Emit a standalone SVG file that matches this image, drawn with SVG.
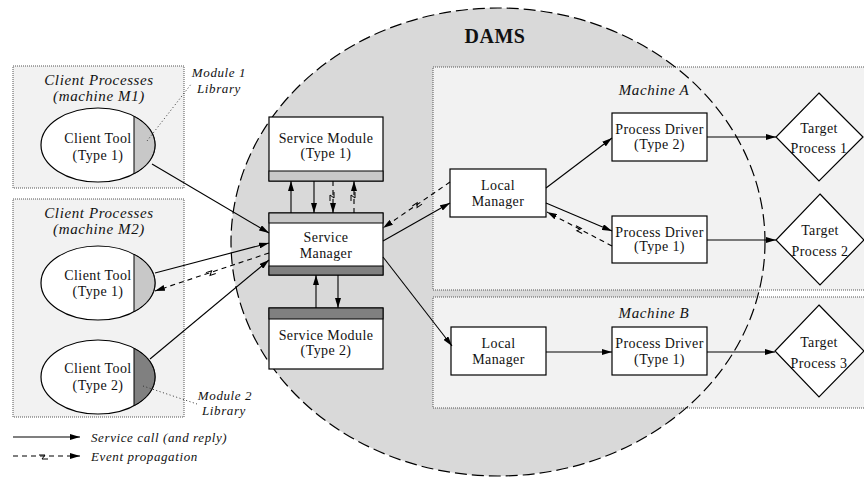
<svg xmlns="http://www.w3.org/2000/svg" width="864" height="477" viewBox="0 0 864 477">
<style>
text{font-family:"Liberation Serif","Times New Roman",serif;font-size:14px;fill:#111;letter-spacing:0.4px}
.it{font-style:italic;font-size:15px;letter-spacing:0.6px}
.mid{text-anchor:middle}
.grp{fill:#f2f2f2;stroke:#555;stroke-width:1;stroke-dasharray:1 1}
.node{fill:#fff;stroke:#000;stroke-width:1.2}
.lt{fill:#c8c8c8;stroke:#000;stroke-width:1}
.dk{fill:#808080;stroke:#000;stroke-width:1}
.call{fill:none;stroke:#000;stroke-width:1.1;marker-end:url(#ah)}
.ev{fill:none;stroke:#000;stroke-width:1.1;stroke-dasharray:5 4;marker-end:url(#ah)}
.zz{fill:none;stroke:#000;stroke-width:1}
.dot{fill:none;stroke:#333;stroke-width:1;stroke-dasharray:1 2.5}
</style>
<defs>
<marker id="ah" viewBox="0 0 10 6" refX="10" refY="3" markerWidth="10" markerHeight="6" markerUnits="userSpaceOnUse" orient="auto"><path d="M0,0 L10,3 L0,6 z" fill="#000"/></marker>
<path id="z" d="M-5,-1 L1,-1 L-2,3 L4,3" fill="none" stroke="#000" stroke-width="1"/>
</defs>
<rect width="864" height="477" fill="#fff"/>

<g id="clients-m1"><rect class="grp" x="13" y="66" width="171" height="122"/>
<text class="it mid" x="99" y="85">Client Processes</text>
<text class="it mid" x="99" y="101">(machine M1)</text></g>
<g id="clients-m2"><rect class="grp" x="13" y="199" width="171" height="218"/>
<text class="it mid" x="99" y="218">Client Processes</text>
<text class="it mid" x="99" y="234">(machine M2)</text></g>

<g id="dams">
<ellipse cx="498" cy="242" rx="267" ry="234" fill="#d9d9d9"/>
</g>
<g id="machine-a"><rect class="grp" x="433" y="67" width="432" height="223"/>
<text class="it mid" x="654" y="95">Machine A</text></g>
<g id="machine-b"><rect class="grp" x="433" y="297" width="432" height="111"/>
<text class="it mid" x="654" y="318">Machine B</text></g>
<ellipse cx="498" cy="242" rx="267" ry="234" fill="none" stroke="#000" stroke-width="1.2" stroke-dasharray="12 5"/>
<text x="495" y="43" class="mid" style="font-weight:bold;font-size:20px;letter-spacing:0.5px">DAMS</text>

<g id="client-tool-m1">
<ellipse class="node" cx="98" cy="145" rx="57" ry="37"/>
<path class="lt" d="M134,116.3 A57,37 0 0 1 134,173.7 Z"/>
<text class="mid" x="98" y="143">Client Tool</text>
<text class="mid" x="98" y="160">(Type 1)</text></g>
<g id="client-tool-m2-t1">
<ellipse class="node" cx="98" cy="283" rx="57" ry="37"/>
<path class="lt" d="M134,254.3 A57,37 0 0 1 134,311.7 Z"/>
<text class="mid" x="98" y="280">Client Tool</text>
<text class="mid" x="98" y="296">(Type 1)</text></g>
<g id="client-tool-m2-t2">
<ellipse class="node" cx="98" cy="377" rx="57" ry="37"/>
<path class="dk" d="M134,348.3 A57,37 0 0 1 134,405.7 Z"/>
<text class="mid" x="98" y="373">Client Tool</text>
<text class="mid" x="98" y="390">(Type 2)</text></g>

<g id="module1-library"><path class="dot" d="M147,141 L192,83"/>
<text class="it mid" x="219" y="77" style="font-size:13px">Module 1</text>
<text class="it mid" x="219" y="93" style="font-size:13px">Library</text></g>
<g id="module2-library"><path class="dot" d="M143,386 L197,404"/>
<text class="it mid" x="225" y="400" style="font-size:13px">Module 2</text>
<text class="it mid" x="224" y="415" style="font-size:13px">Library</text></g>

<g id="service-module-1">
<rect class="node" x="269" y="117" width="114" height="64"/>
<rect class="lt" x="269" y="171" width="114" height="10"/>
<text class="mid" x="326" y="143">Service Module</text>
<text class="mid" x="326" y="158">(Type 1)</text></g>
<g id="service-manager">
<rect class="node" x="269" y="213" width="114" height="62"/>
<rect class="lt" x="269" y="213" width="114" height="10"/>
<rect class="dk" x="269" y="266" width="114" height="9"/>
<text class="mid" x="326" y="242">Service</text>
<text class="mid" x="326" y="258">Manager</text></g>
<g id="service-module-2">
<rect class="node" x="269" y="308" width="114" height="61"/>
<rect class="dk" x="269" y="308" width="114" height="11"/>
<text class="mid" x="326" y="340">Service Module</text>
<text class="mid" x="326" y="355">(Type 2)</text></g>

<g id="local-manager-a"><rect class="node" x="450" y="169" width="96" height="48"/>
<text class="mid" x="498" y="190">Local</text><text class="mid" x="498" y="206">Manager</text></g>
<g id="process-driver-a2"><rect class="node" x="612" y="113" width="95" height="48"/>
<text class="mid" x="659.5" y="134">Process Driver</text><text class="mid" x="659.5" y="149">(Type 2)</text></g>
<g id="process-driver-a1"><rect class="node" x="612" y="216" width="95" height="47"/>
<text class="mid" x="659.5" y="237">Process Driver</text><text class="mid" x="659.5" y="251">(Type 1)</text></g>
<g id="target-process-1"><path class="node" d="M819,93 L863,137 L819,181 L776,137 Z"/>
<text class="mid" x="819" y="133">Target</text><text class="mid" x="819" y="153">Process 1</text></g>
<g id="target-process-2"><path class="node" d="M820,194 L864,240 L820,285 L776,240 Z"/>
<text class="mid" x="820" y="235">Target</text><text class="mid" x="820" y="256">Process 2</text></g>

<g id="local-manager-b"><rect class="node" x="451" y="327" width="95" height="48"/>
<text class="mid" x="498.5" y="348">Local</text><text class="mid" x="498.5" y="364">Manager</text></g>
<g id="process-driver-b1"><rect class="node" x="612" y="327" width="95" height="48"/>
<text class="mid" x="659.5" y="348">Process Driver</text><text class="mid" x="659.5" y="364">(Type 1)</text></g>
<g id="target-process-3"><path class="node" d="M819,305 L864,351 L819,397 L775,351 Z"/>
<text class="mid" x="819" y="347">Target</text><text class="mid" x="819" y="368">Process 3</text></g>

<g id="connectors">
<path class="call" d="M152,164 L269,233"/>
<path class="call" d="M155,273 L269,243"/>
<path class="ev" d="M269,253 L155,291"/>
<use href="#z" transform="translate(211,272) rotate(-18.4)"/>
<path class="call" d="M150,359 L269,260"/>
<path class="call" d="M291,213 L291,181"/>
<path class="call" d="M314,181 L314,213"/>
<path class="ev" d="M333,181 L333,213"/>
<use href="#z" transform="translate(333,197) rotate(90)"/>
<path class="ev" d="M354,213 L354,181"/>
<use href="#z" transform="translate(354,197) rotate(90)"/>
<path class="call" d="M316,308 L316,275"/>
<path class="call" d="M338,275 L338,308"/>
<path class="call" d="M383,241 L450,203"/>
<path class="ev" d="M450,182 L383,228"/>
<use href="#z" transform="translate(417,204) rotate(-34.5)"/>
<path class="call" d="M383,257 L452,346"/>
<path class="call" d="M546,188 L612,138"/>
<path class="call" d="M546,203 L612,231"/>
<path class="ev" d="M612,246 L547,212"/>
<use href="#z" transform="translate(580,229) rotate(27.6)"/>
<path class="call" d="M707,137 L776,137"/>
<path class="call" d="M707,240 L776,240"/>
<path class="call" d="M546,352 L612,352"/>
<path class="call" d="M707,352 L775,352"/>
</g>

<g id="legend">
<path class="call" d="M13,437 L80,437"/>
<text class="it" x="91" y="442" style="font-size:13px">Service call (and reply)</text>
<path class="ev" d="M13,456 L80,456"/>
<use href="#z" transform="translate(44,456)"/>
<text class="it" x="91" y="461" style="font-size:13px">Event propagation</text>
</g>
</svg>
